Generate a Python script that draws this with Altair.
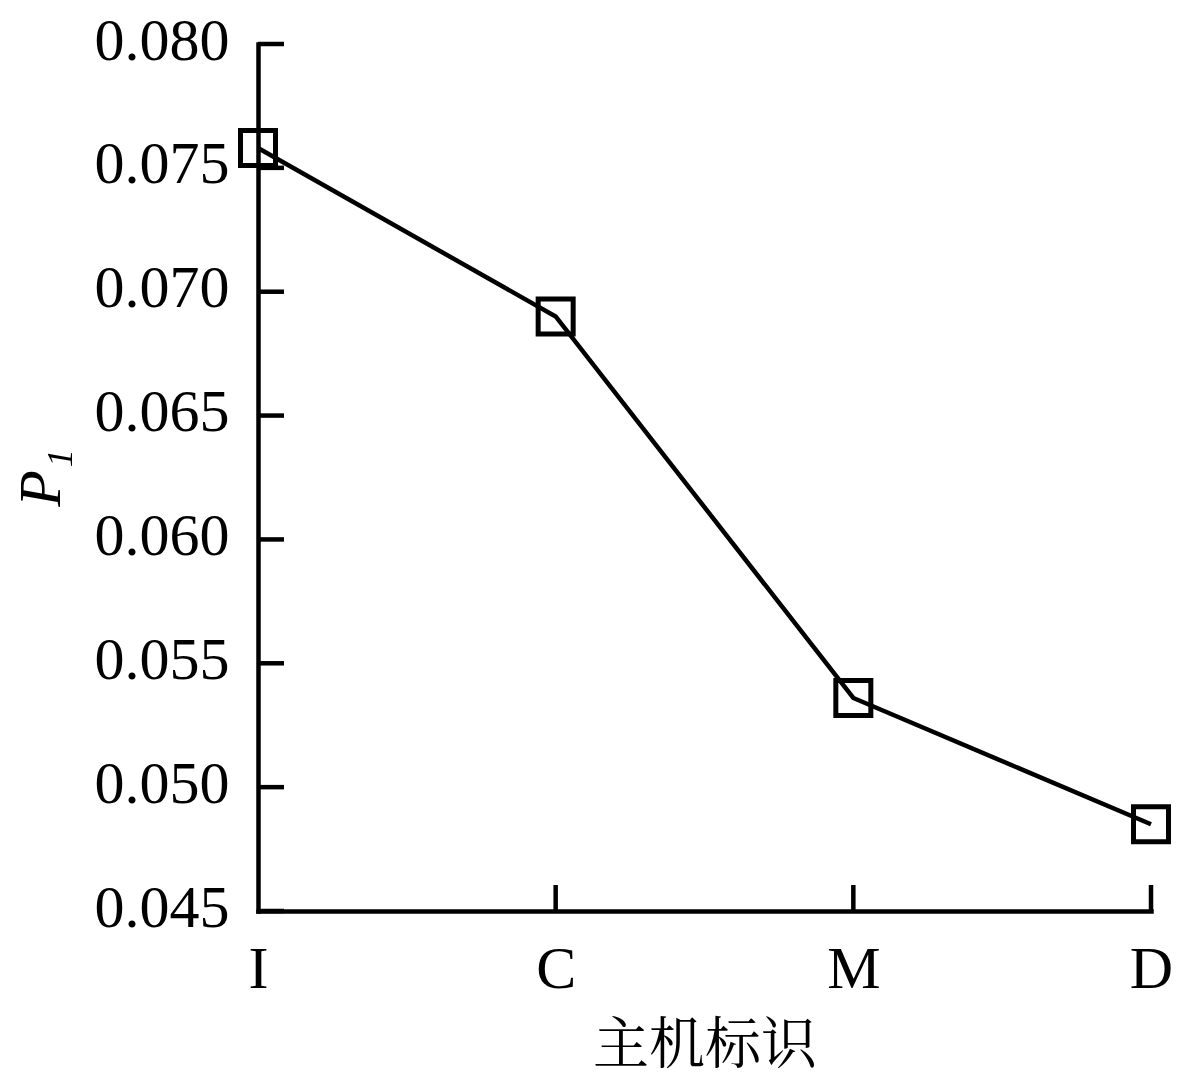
import altair as alt
import pandas as pd

# data
hosts = ["I", "C", "M", "D"]
p1_values = [0.0758, 0.0690, 0.0536, 0.0485]
y_ticks = [0.045, 0.050, 0.055, 0.060, 0.065, 0.070, 0.075, 0.080]
x_tick_hosts = ["C", "M", "D"]

W, H = 893, 867
TICK = 26
SERIF = "Liberation Serif"
CJK = "Noto Serif CJK SC, Noto Sans CJK SC"

df = pd.DataFrame({"host": hosts, "p1": p1_values})
ydf = pd.DataFrame({"v": y_ticks})
xdf = pd.DataFrame({"host": x_tick_hosts})

xscale = alt.Scale(type="point", domain=hosts, padding=0)
yscale = alt.Scale(domain=[0.045, 0.080], nice=False, zero=False)

x_axis = alt.Axis(
    title="主机标识", titleFont=CJK, titleFontSize=56, titleFontWeight="normal",
    titleColor="black", titlePadding=19,
    labelFont=SERIF, labelFontSize=60, labelColor="black", labelPadding=29,
    labelAngle=0, labelAlign="center", labelBaseline="top",
    tickSize=0, domainColor="black", domainWidth=4.5,
    domainCap="square", grid=False,
)
y_axis = alt.Axis(
    title="P₁", titleFont=SERIF, titleFontSize=60, titleFontStyle="italic",
    titleFontWeight="normal", titleColor="black", titlePadding=22,
    labelFont=SERIF, labelFontSize=60, labelColor="black", labelPadding=29,
    labelAlign="right", labelBaseline="middle", labelOffset=-3,
    values=y_ticks, format=".3f", tickSize=0, domainColor="black",
    domainWidth=4.5, domainCap="square", grid=False,
)

line = alt.Chart(df).mark_line(color="black", strokeWidth=4.5).encode(
    x=alt.X("host:N", scale=xscale, axis=x_axis, sort=hosts),
    y=alt.Y("p1:Q", scale=yscale, axis=y_axis),
)
points = alt.Chart(df).mark_point(
    shape="square", filled=False, color="black", strokeWidth=5, size=1225, opacity=1
).encode(
    x=alt.X("host:N", scale=xscale, sort=hosts, axis=x_axis),
    y=alt.Y("p1:Q", scale=yscale, axis=y_axis),
)
ytick_rules = alt.Chart(ydf).mark_rule(color="black", strokeWidth=4.5).encode(
    y=alt.Y("v:Q", scale=yscale, axis=y_axis),
    x=alt.value(0),
    x2=alt.value(TICK),
)
xtick_rules = alt.Chart(xdf).mark_rule(color="black", strokeWidth=4.5).encode(
    x=alt.X("host:N", scale=xscale, sort=hosts, axis=x_axis),
    y=alt.value(H),
    y2=alt.value(H - TICK),
)

chart = alt.layer(line, points, ytick_rules, xtick_rules).properties(
    width=W, height=H,
    background="white",
    autosize=alt.AutoSizeParams(type="none"),
    padding={"left": 250, "top": 36, "right": 23, "bottom": 172},
).configure_view(strokeWidth=0, stroke="transparent")

chart.save("out.html", embed_options={"renderer": "svg", "actions": False})
